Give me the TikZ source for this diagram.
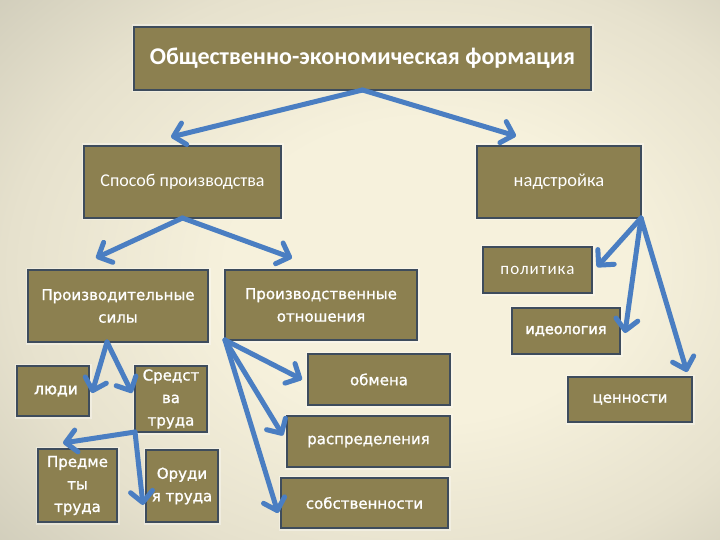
\documentclass[tikz,border=0pt]{standalone}
\usepackage{fontspec}
\setmainfont{DejaVu Sans}
\newfontfamily\dvfont{DejaVu Sans}[FakeBold=1.2]
\newfontfamily\dvbfont{DejaVu Sans}[FakeBold=2.2]
\newfontfamily\calfont{Carlito}
\newfontfamily\calspfont{Carlito}[LetterSpace=6]
\usetikzlibrary{arrows.meta,calc}
\definecolor{boxfill}{RGB}{140,128,80}
\definecolor{boxline}{RGB}{62,76,92}
\definecolor{arrowblue}{RGB}{74,126,194}
\definecolor{bgc}{RGB}{246,241,220}
\definecolor{bgm}{RGB}{230,225,205}
\definecolor{bgn}{RGB}{184,182,166}
\definecolor{bgo}{RGB}{132,132,124}
\pgfdeclareradialshading{bgshade}{\pgfpoint{6bp}{0bp}}{color(0bp)=(bgc); color(14bp)=(bgc); color(28bp)=(bgm); color(50bp)=(bgn); color(72bp)=(bgo)}
\tikzset{
  box/.style={draw=boxline, line width=2pt, fill=boxfill, text=white, align=center,
    inner sep=0pt, outer sep=0pt,
    preaction={draw=white, draw opacity=0.35, line width=5pt}},
  arr/.style={draw=arrowblue, line width=5pt, line cap=round,
    -{Straight Barb[length=11pt, width=22pt, line cap=round, line join=round]}},
  txt/.style={font=\dvfont\fontsize{15}{22.5}\selectfont},
  txtb/.style={font=\dvbfont\fontsize{15.5}{22}\selectfont},
}
\begin{document}
\begin{tikzpicture}[x=1pt,y=-1pt]
\useasboundingbox (0,0) rectangle (720,540);
\shade[shading=bgshade] (0,0) rectangle (720,540);
% boxes
\node[box, minimum width=457pt, minimum height=63pt, font=\calfont\fontsize{24}{28}\selectfont\bfseries] (top) at (362.5,58.5) {Общественно-экономическая формация};
\node[box, minimum width=197pt, minimum height=72pt, font=\calfont\fontsize{18}{22}\selectfont] (sposob) at (182.5,182) {Способ производства};
\node[box, minimum width=164pt, minimum height=72pt, font=\calfont\fontsize{18.5}{22}\selectfont] (nadstr) at (559,182) {надстройка};
\node[box, txt, minimum width=180pt, minimum height=72pt] (prf) at (118,306) {Производительные\\силы};
\node[box, txt, minimum width=192pt, minimum height=70pt] (pro) at (321,305) {Производственные\\отношения};
\node[box, txtb, minimum width=72pt, minimum height=50pt] (lyudi) at (53,391) {\hspace*{6pt}люди};
\node[box, txt, minimum width=72pt, minimum height=66pt] (sredstva) at (171,399) {Средст\\ва\\труда};
\node[box, txt, minimum width=79pt, minimum height=73pt] (predmety) at (77.5,485.5) {Предме\\ты\\труда};
\node[box, txt, minimum width=72pt, minimum height=72pt] (orudia) at (182,486) {Оруди\\я труда};
\node[box, txt, minimum width=142pt, minimum height=51pt] (obmena) at (379,379.5) {обмена};
\node[box, txt, minimum width=163pt, minimum height=51pt] (raspr) at (368.5,441.5) {распределения};
\node[box, txt, minimum width=167pt, minimum height=50pt] (sobstv) at (364.5,503) {собственности};
\node[box, minimum width=109pt, minimum height=46pt, font=\calspfont\fontsize{17}{20}\selectfont] (politika) at (537.5,270) {политика};
\node[box, txtb, minimum width=108pt, minimum height=46pt, font=\dvbfont\fontsize{14.5}{20}\selectfont] (ideol) at (566,331) {идеология};
\node[box, txt, minimum width=124pt, minimum height=45pt] (tsennosti) at (630,399.5) {ценности};
% arrows
\draw[arr] (top.south) -- ($(sposob.north)+(-11.5,-9)$);
\draw[arr] (top.south) -- ($(nadstr.north)+(-43,-10)$);
\draw[arr] (sposob.south) -- ($(prf.north)+(-22,-12)$);
\draw[arr] (sposob.south) -- ($(pro.north)+(-29,-12)$);
\coordinate (prfout) at ($(prf.south)+(-11,0)$);
\draw[arr] (prfout) -- ($(lyudi.east)+(3,2)$);
\draw[arr] (prfout) -- ($(sredstva.west)+(-3,-6)$);
\draw[arr] (sredstva.south west) -- ($(predmety.north)+(-14.5,-6)$);
\draw[arr] (sredstva.south west) -- ($(orudia.west)+(-3,19)$);
\draw[arr] (pro.south west) -- ($(obmena.west)+(-6,0)$);
\draw[arr] (pro.south west) -- ($(raspr.west)+(-4,-6)$);
\draw[arr] (pro.south west) -- ($(sobstv.west)+(-3,10)$);
\draw[arr] (nadstr.south east) -- ($(politika.east)+(5,-3)$);
\draw[arr] (nadstr.south east) -- ($(ideol.east)+(5,2)$);
\draw[arr] (nadstr.south east) -- ($(tsennosti.north east)+(-5,-5)$);
\end{tikzpicture}
\end{document}
